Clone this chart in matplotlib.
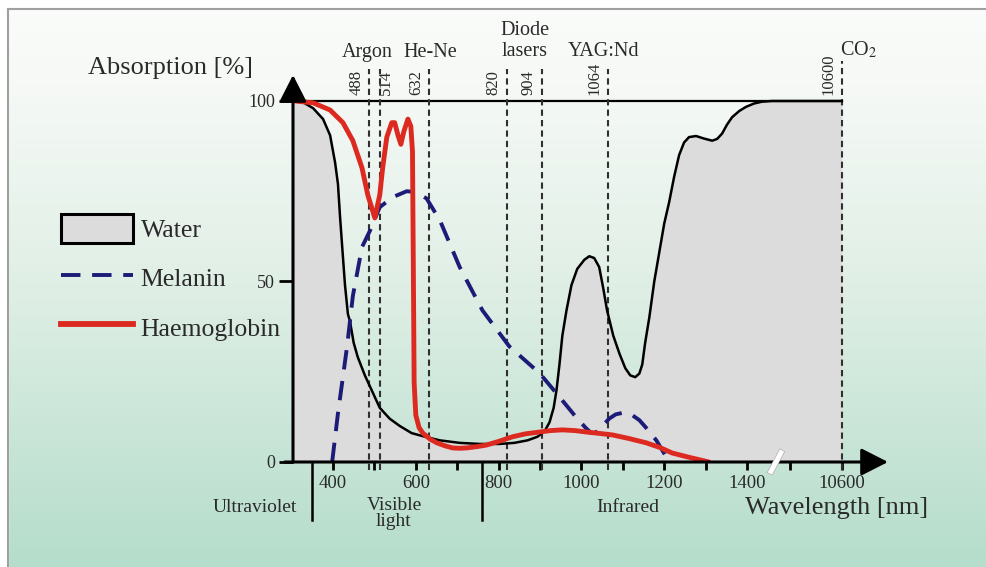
import numpy as np
import matplotlib
matplotlib.use("Agg")
import matplotlib.pyplot as plt
from matplotlib.patches import Patch
from matplotlib.lines import Line2D
import matplotlib.patheffects as pe

plt.rcParams['font.family'] = ['Liberation Serif', 'DejaVu Serif']
plt.rcParams['mathtext.fontset'] = 'stix'

# ---------------- data ----------------
water_nm = [304, 330, 352, 376, 393, 405, 412, 417, 422, 429, 436, 441, 450, 460,
            477, 489, 513, 537, 561, 590, 622, 658, 706, 754, 802, 838, 870, 894,
            911, 923, 933, 940, 947, 954, 964, 976, 990, 1007, 1019, 1031, 1043,
            1053, 1062, 1077, 1092, 1106, 1118, 1130, 1140, 1147, 1154, 1164, 1176,
            1188, 1200, 1212, 1224, 1236, 1248, 1260, 1277, 1296, 1316, 1328, 1340,
            1352, 1364, 1381, 1398, 1417, 1436, 1460, 10600]
water_abs = [100, 99.5, 98, 95, 90.5, 83, 77, 68, 60, 49, 41, 39, 33, 29,
             24, 21, 15, 12, 10, 8, 7, 6, 5.3, 5, 5, 5.3, 6, 7,
             8.5, 11, 15, 20, 27, 35, 42, 49, 53.5, 56, 57, 56.5, 54,
             48, 42, 35, 30, 26, 24, 23.5, 24.5, 27, 33, 40, 50,
             58, 66, 72, 79, 85, 88.5, 90, 90.3, 89.6, 89, 89.5, 91,
             93.5, 95.5, 97.2, 98.4, 99.3, 99.8, 100, 100]

melanin_nm = [398, 412, 434, 448, 470, 489, 513, 545, 578, 600, 626, 658, 706,
              761, 826, 899, 940, 983, 1010, 1024, 1035, 1043, 1055, 1067, 1083,
              1099, 1120, 1140, 1160, 1181, 1205, 1212]
melanin_abs = [0, 13.5, 32, 46, 59.5, 64, 70.6, 73.4, 75, 74.8, 73, 67, 54,
               42, 32, 24.6, 19, 13, 9.5, 8, 8.2, 8.9, 10.5, 12, 13.2,
               13.6, 13.2, 11.6, 9, 6, 1.4, 0]

haemo_nm = [308, 352, 393, 424, 448, 470, 484, 501, 513, 520, 530, 542, 549, 557,
            564, 571, 581, 588, 592, 594, 596, 600, 608, 617, 635, 651, 670, 689,
            706, 723, 750, 771, 800, 834, 865, 899, 925, 954, 985, 1012, 1045,
            1075, 1115, 1157, 1190, 1219, 1260, 1308]
haemo_abs = [100, 99.5, 97.5, 94, 89, 81.5, 74, 67.6, 74, 81.5, 90, 94, 94, 90.5,
             88, 91.5, 95, 93, 86, 55, 22, 13, 9.5, 8, 6.3, 5.3, 4.5, 3.9,
             3.8, 3.9, 4.3, 4.7, 5.7, 7, 7.8, 8.3, 8.7, 8.9, 8.7, 8.3, 7.9,
             7.5, 6.5, 5.3, 4, 2.5, 1.3, 0]

laser_nm = [488, 514, 632, 820, 904, 1064, 10600]
laser_labels = ['488', '514', '632', '820', '904', '1064', '10600']

xtick_nm = [400, 600, 800, 1000, 1200, 1400, 10600]
xtick_labels = ['400', '600', '800', '1000', '1200', '1400', '10600']
xminor_nm = [500, 700, 900, 1100, 1300]
ytick_vals = [0, 50, 100]
ytick_labels = ['0', '50', '100']

region_bounds_nm = [350, 760]

# ---------------- geometry ----------------
W, H = 987, 567
fig = plt.figure(figsize=(W / 100, H / 100), dpi=100)

BREAK_NM, BREAK_POS, CO2_POS = 1470, 1470, 1629


def xpos(w):
    """broken wavelength axis: linear up to the break, compressed afterwards"""
    return np.interp(w, [0, BREAK_NM, 10600], [0, BREAK_POS, CO2_POS])


TXT = '#2a2a2a'

# background gradient
bg = fig.add_axes([0, 0, 1, 1], zorder=-5)
t = np.linspace(0, 1, H)
cols = np.stack([np.interp(t, [0, 0.15, 0.5, 1], [251, 246, 224, 181]),
                 np.interp(t, [0, 0.15, 0.5, 1], [252, 249, 239, 221]),
                 np.interp(t, [0, 0.15, 0.5, 1], [251, 246, 230, 203])], axis=1) / 255
img = np.repeat(cols[:, None, :], 4, axis=1)
bg.imshow(img, extent=(0, W, H, 0), aspect='auto', interpolation='bilinear')
bg.fill_between([0, W], 0, 9, color='white', zorder=2)
bg.fill_between([0, 8], 0, H, color='white', zorder=2)
bg.plot([8, W], [9, 9], color='#a0a0a0', lw=1.5, zorder=3)
bg.plot([8, 8], [9, H], color='#a0a0a0', lw=1.5, zorder=3)
bg.set_xlim(0, W)
bg.set_ylim(H, 0)
bg.axis('off')

# main axes
X0, X1 = 303.4, 1740.6
ax = fig.add_axes([293 / W, 1 - 462 / H, 595 / W, 387 / H], zorder=0)
ax.set_xlim(X0, X1)
ax.set_ylim(0, 107.2)
ax.patch.set_alpha(0)
for s in ax.spines.values():
    s.set_visible(False)

wx = xpos(np.array(water_nm))
ax.fill_between(wx, 0, water_abs, color='#dcdcdc', lw=0, zorder=1)
ax.plot(wx, water_abs, color='black', lw=1.8, zorder=4)

# 100 % line
ax.plot([X0, xpos(10600)], [100, 100], color='black', lw=1.6, zorder=2)

# laser lines and their labels
for w, lab in zip(laser_nm, laser_labels):
    top = 111 if w == 10600 else 109
    ax.plot([xpos(w)] * 2, [-2.2, top], color='#303030', lw=1.5,
            ls=(0, (3, 2)), zorder=3, clip_on=False)
    off = 6 if w == 514 else -13
    ax.annotate(lab, xy=(xpos(w), 100), xytext=(off * 0.72, 4.5),
                textcoords='offset points', rotation=90, ha='center',
                va='bottom', fontsize=12, color=TXT, annotation_clip=False)

ax.plot(xpos(np.array(melanin_nm)), melanin_abs, color='#1c1c78', lw=2.8,
        ls=(0, (5, 3)), zorder=5)
ax.plot(xpos(np.array(haemo_nm)), haemo_abs, color='#dc2a20', lw=3.5,
        zorder=6, solid_capstyle='round')

# axes with arrows
arrow = dict(arrowstyle='-|>,head_length=0.55,head_width=0.28', lw=2.2,
             color='black', mutation_scale=30, shrinkA=0, shrinkB=0)
ax.annotate('', xy=(X0, 107.2), xytext=(X0, 0), arrowprops=arrow,
            annotation_clip=False, zorder=8)
ax.annotate('', xy=(X1, 0), xytext=(X0 - 20, 0), arrowprops=arrow,
            annotation_clip=False, zorder=8)

# ticks
ax.set_yticks(ytick_vals)
ax.set_yticklabels(ytick_labels)
ax.set_xticks(xpos(np.array(xtick_nm)))
ax.set_xticklabels(xtick_labels)
ax.set_xticks(list(xpos(np.array(xminor_nm))) + [BREAK_POS + 34], minor=True)
ax.tick_params(axis='y', length=10, width=2, pad=3, labelsize=13,
               labelcolor=TXT, direction='out')
ax.tick_params(axis='x', which='both', length=6, width=2, pad=3,
               labelsize=13.5, labelcolor=TXT, direction='out')

# axis break marker
ax.plot([BREAK_POS - 12, BREAK_POS + 12], [-2.6, 2.6], color='white', lw=3.5,
        zorder=9, clip_on=False,
        path_effects=[pe.Stroke(linewidth=4.5, foreground='#b0b0b0'), pe.Normal()])

# spectral region boundaries
for b in region_bounds_nm:
    ax.plot([xpos(b)] * 2, [0, -16], color='black', lw=1.8, clip_on=False)

# overlay for free text (pixel coordinates)
ov = fig.add_axes([0, 0, 1, 1], zorder=2)
ov.set_xlim(0, W)
ov.set_ylim(H, 0)
ov.axis('off')
ov.patch.set_alpha(0)

ov.text(171, 68, 'Absorption [%]', fontsize=19, color=TXT, ha='center', va='center')
ov.text(745, 508, 'Wavelength [nm]', fontsize=19, color=TXT, ha='left', va='center')
ov.text(255, 507, 'Ultraviolet', fontsize=14, color=TXT, ha='center', va='center')
ov.text(394, 505, 'Visible', fontsize=14, color=TXT, ha='center', va='center')
ov.text(394, 522, 'light', fontsize=14, color=TXT, ha='center', va='center')
ov.text(628, 507, 'Infrared', fontsize=14, color=TXT, ha='center', va='center')

ov.text(367, 57, 'Argon', fontsize=14.5, color=TXT, ha='center', va='baseline')
ov.text(430, 57, 'He-Ne', fontsize=14.5, color=TXT, ha='center', va='baseline')
ov.text(525, 35, 'Diode', fontsize=14.5, color=TXT, ha='center', va='baseline')
ov.text(525, 56, 'lasers', fontsize=14.5, color=TXT, ha='center', va='baseline')
ov.text(603, 56, 'YAG:Nd', fontsize=14.5, color=TXT, ha='center', va='baseline')
ov.text(840, 55, 'CO$_2$', fontsize=14.5, color=TXT, ha='left', va='baseline')

# legend
handles = [Patch(facecolor='#dcdcdc', edgecolor='black', lw=2.2),
           Line2D([], [], color='#1c1c78', lw=2.8, ls=(0, (5, 3))),
           Line2D([], [], color='#dc2a20', lw=4.2)]
fig.legend(handles, ['Water', 'Melanin', 'Haemoglobin'], loc='upper left',
           bbox_to_anchor=(61 / W, 1 - 214 / H), frameon=False, fontsize=18.5,
           handlelength=2.8, handleheight=1.35, handletextpad=0.3,
           labelspacing=0.8, borderpad=0, borderaxespad=0, labelcolor=TXT)

fig.savefig('out.png', dpi=100)
